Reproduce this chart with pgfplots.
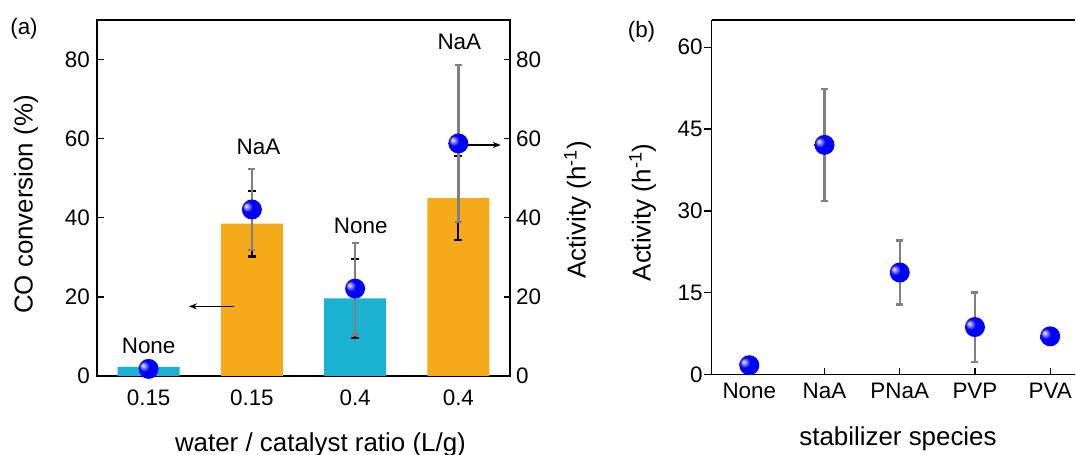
\documentclass[border=0pt]{standalone}
\usepackage{fontspec}
\setmainfont{Liberation Sans}
\usepackage{pgfplots}
\usepackage{pgfplotstable}
\pgfplotsset{compat=1.18}
\usetikzlibrary{arrows.meta}
\definecolor{barcyan}{RGB}{26,178,208}
\definecolor{barorange}{RGB}{245,171,25}
\definecolor{errgray}{RGB}{128,128,128}
\definecolor{ballblue}{RGB}{0,0,255}
\newcommand\tl{\fontsize{22.5}{27}\selectfont}
\newcommand\al{\fontsize{26}{31}\selectfont}

\pgfdeclareradialshading{refball}{\pgfqpoint{-15bp}{9bp}}{%
  color(0bp)=(white); color(4bp)=(ballblue!35!white); color(13bp)=(ballblue);
  color(42bp)=(ballblue); color(50bp)=(ballblue!80!black)}
\pgfdeclareplotmark{refball}{%
  \pgfpathcircle{\pgfpointorigin}{\pgfplotmarksize}%
  \pgfshadepath{refball}{0}%
  \pgfusepath{discard}}

% left panel: CO conversion bars (cyan = None, orange = NaA)
\pgfplotstableread{
x conv err
0 2.3 0.8
2 19.6 10.0
}\barsNone
\pgfplotstableread{
x conv err
1 38.5 8.3
3 45.0 10.6
}\barsNaA
% left panel: activity points
\pgfplotstableread{
x act err
0 1.8 1.3
1 42.1 10.2
2 22.1 11.6
3 58.8 19.8
}\actA
% right panel: activity vs stabilizer
\pgfplotstableread{
x act err
0 1.7 1.4
1 42.1 10.25
2 18.7 5.85
3 8.7 6.35
4 7.0 1.35
}\actB

\pgfplotsset{
  base/.style={scale only axis, anchor=south west, clip=false,
    tick label style={font=\tl}, label style={font=\al},
    /pgf/number format/assume math mode=true,
    axis line style={line width=1.3bp, -},
    major tick length=6.5bp,
    tick style={black, line width=1.3bp}},
  blackerr/.style={error bars/.cd, y dir=both, y explicit,
    error bar style={black, line width=1.8bp},
    error mark options={black, rotate=90, mark size=4bp, line width=2.5bp}},
  grayerr/.style={error bars/.cd, y dir=both, y explicit,
    error bar style={errgray, line width=2.3bp},
    error mark options={errgray, rotate=90, mark size=3.5bp, line width=2.3bp}},
  ballmark/.style={only marks, mark=refball, mark size=10bp},
}

\begin{document}
\begin{tikzpicture}
\useasboundingbox (0bp,0bp) rectangle (1076bp,455bp);

% ---------- panel (a) ----------
\begin{axis}[base, at={(97bp,79bp)}, width=413bp, height=356bp,
  xmin=-0.5, xmax=3.5, ymin=0, ymax=90,
  xtick={0,1,2,3}, xticklabels={0.15,0.15,0.4,0.4},
  xtick style={draw=none},
  xticklabel style={anchor=base, yshift=-30bp},
  ytick={0,20,40,60,80}, ytick pos=left, tick align=inside,
  yticklabel style={anchor=east, inner sep=0pt, xshift=-7bp},
  xlabel={water / catalyst ratio (L/g)},
  xlabel style={at={(axis description cs:0.541,-0.2107)}, anchor=base},
  ylabel={CO conversion (\%)},
  ylabel style={at={(axis description cs:-0.1719,0.4817)}, anchor=center},
]
\addplot[ybar, bar width=0.6, bar shift=0pt, fill=barcyan, draw=none, blackerr]
  table[x=x, y=conv, y error=err] {\barsNone};
\addplot[ybar, bar width=0.6, bar shift=0pt, fill=barorange, draw=none, blackerr]
  table[x=x, y=conv, y error=err] {\barsNaA};
\node[font=\tl, inner sep=0pt] at (axis cs:0,7.7) {None};
\node[font=\tl, inner sep=0pt] at (axis cs:1.064,58.0) {NaA};
\node[font=\tl, inner sep=0pt] at (axis cs:2.054,38.0) {None};
\node[font=\tl, inner sep=0pt] at (axis cs:3.009,84.4) {NaA};
\draw[-{Stealth[length=8bp,width=6bp]}, line width=1.3bp]
  (axis cs:0.83,17.6) -- (axis cs:0.39,17.6);
\end{axis}

\begin{axis}[base, at={(97bp,79bp)}, width=413bp, height=356bp,
  xmin=-0.5, xmax=3.5, ymin=0, ymax=90,
  hide x axis, axis y line*=right,
  ytick={0,20,40,60,80}, tick align=inside,
  yticklabel style={anchor=west, inner sep=0pt, xshift=6bp},
  ylabel={Activity (h\textsuperscript{-1})},
  ylabel style={at={(axis description cs:1.1634,0.4663)}, anchor=center},
]
\addplot[ballmark, grayerr] table[x=x, y=act, y error=err] {\actA};
\draw[-{Stealth[length=8bp,width=6bp]}, line width=1.3bp]
  (axis cs:3.07,58.4) -- (axis cs:3.41,58.4);
\end{axis}

% ---------- panel (b) ----------
\begin{axis}[base, at={(711.7bp,80.5bp)}, width=363.3bp, height=354.5bp,
  xmin=-0.5, xmax=4.33, ymin=0, ymax=65,
  axis x line*=bottom, axis y line*=left,
  xtick={0,1,2,3,4}, xticklabels={None,NaA,PNaA,PVP,PVA},
  tick align=inside,
  xticklabel style={anchor=base, yshift=-23.5bp},
  ytick=\empty,
  xlabel={stabilizer species},
  xlabel style={at={(axis description cs:0.5128,-0.2008)}, anchor=base},
]
\draw[line width=1.3bp] (rel axis cs:0,1) -- (rel axis cs:1,1);
\end{axis}

\begin{axis}[base, at={(711.7bp,80.5bp)}, width=363.3bp, height=354.5bp,
  xmin=-0.5, xmax=4.33, ymin=0, ymax=65,
  hide x axis, axis y line*=left,
  ytick={0,15,30,45,60}, tick align=outside, major tick length=8bp,
  yticklabel style={anchor=east, inner sep=0pt, xshift=-1bp},
  ylabel={Activity (h\textsuperscript{-1})},
  ylabel style={at={(axis description cs:-0.1905,0.457)}, anchor=center},
]
\addplot[ballmark, grayerr] table[x=x, y=act, y error=err] {\actB};
\end{axis}

\node[font=\tl] at (24bp,426bp) {(a)};
\node[font=\tl] at (641.5bp,423.5bp) {(b)};
\end{tikzpicture}
\end{document}
